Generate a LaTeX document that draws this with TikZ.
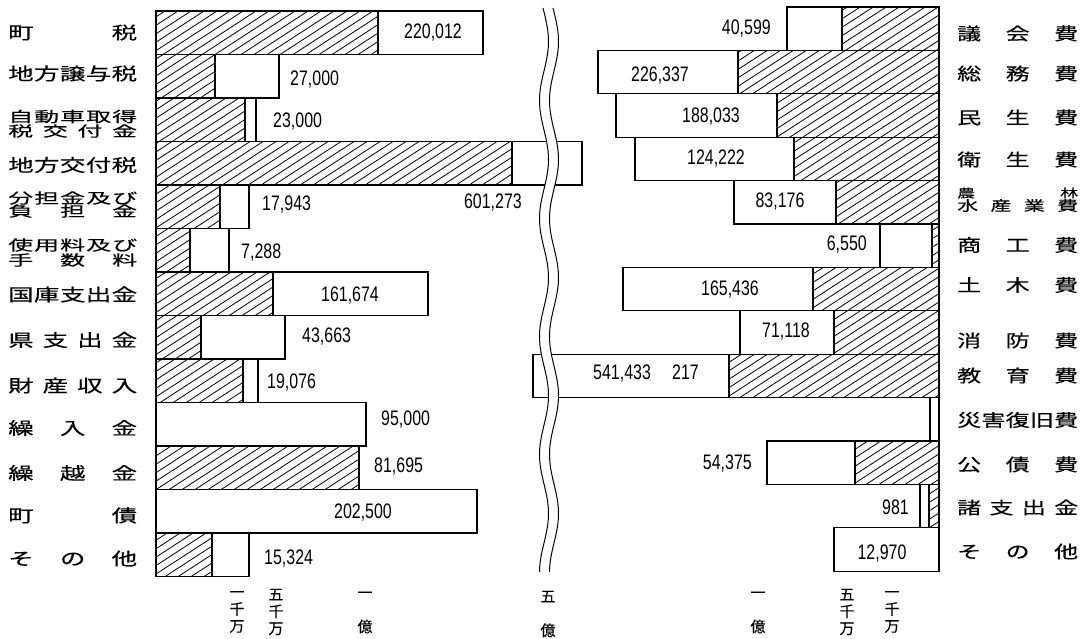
\documentclass[tikz,border=0pt]{standalone}
\usepackage{fontspec}
\usepackage{graphicx}
\setmainfont{Noto Sans CJK JP}
\newfontfamily\jpf[FakeBold=0.3]{Noto Sans CJK JP}
\newfontfamily\numf[FakeStretch=0.76]{Liberation Sans}
\newcommand\LL[1]{\scalebox{1}[0.68]{\makebox[129pt][l]{#1}}}
\newcommand\LS[1]{\scalebox{1}[0.58]{\makebox[129pt][l]{#1}}}
\newcommand\RL[1]{\scalebox{1}[0.72]{\makebox[121pt][l]{#1}}}
\newcommand\RS[1]{\scalebox{1}[0.66]{\makebox[121pt][l]{#1}}}
\tikzset{
  barline/.style={draw=black, line width=1.1pt},
  whitebar/.style={draw=black, line width=1.1pt, fill=white},
  hatchln/.style={draw=black, line width=0.8pt},
  wave/.style={draw=black, line width=1pt},
  num/.style={inner sep=0pt, text height=15pt, text depth=0pt, font=\numf\fontsize{21}{21}\selectfont},
  lab/.style={inner sep=0pt, anchor=west, font=\jpf\fontsize{25.5}{25.5}\selectfont},
  rlab/.style={inner sep=0pt, anchor=west, font=\jpf\fontsize{24}{24}\selectfont},
  labs/.style={inner sep=0pt, anchor=west, font=\jpf\fontsize{25}{25}\selectfont},
  labt/.style={inner sep=0pt, anchor=west, font=\jpf\fontsize{18}{18}\selectfont},
  labu/.style={inner sep=0pt, anchor=west, font=\jpf\fontsize{21}{21}\selectfont},
  ax/.style={inner sep=0pt, align=center, font=\jpf\fontsize{15}{17}\selectfont},
}
\newcommand\hatchbox[4]{%
  \pgfmathsetmacro\hcs{floor((#1+1.54*#2)/13)*13}%
  \pgfmathsetmacro\hcn{\hcs+13}%
  \pgfmathsetmacro\hce{#3+1.54*#4+13}%
  \begin{scope}
    \clip (#1,#2) rectangle (#3,#4);
    \foreach \hc in {\hcs,\hcn,...,\hce} \draw[hatchln] (\hc,0) -- ({\hc-1.54*640},640);
  \end{scope}
  \draw[barline] (#1,#2) rectangle (#3,#4);}
\newcommand\wbox[4]{\draw[whitebar] (#1,#2) rectangle (#3,#4);}
\begin{document}
\begin{tikzpicture}[x=1pt,y=-1pt]
\useasboundingbox (0,0) rectangle (1088,639);
\fill[white] (0,0) rectangle (1088,639);
% ---------- left bars ----------
\hatchbox{156}{11}{378}{54.5}\wbox{378}{11}{483}{54.5}
\hatchbox{156}{54.5}{215}{98}\wbox{215}{54.5}{279}{98}
\hatchbox{156}{98}{245}{141.5}\wbox{245}{98}{256}{141.5}
\hatchbox{156}{141.5}{512}{185}\wbox{512}{141.5}{582}{185}
\hatchbox{156}{185}{220}{228.5}\wbox{220}{185}{249}{228.5}
\hatchbox{156}{228.5}{190}{272}\wbox{190}{228.5}{229}{272}
\hatchbox{156}{272}{273}{315.5}\wbox{273}{272}{428}{315.5}
\hatchbox{156}{315.5}{201}{359}\wbox{201}{315.5}{285}{359}
\hatchbox{156}{359}{243}{402.5}\wbox{243}{359}{258}{402.5}
\wbox{156}{402.5}{366}{446}
\hatchbox{156}{446}{359}{489.5}
\wbox{156}{489.5}{477}{533}
\hatchbox{156}{533}{212}{576.5}\wbox{212}{533}{249}{576.5}
% ---------- right bars ----------
\wbox{787}{7}{842}{50.4}\hatchbox{842}{7}{939}{50.4}
\wbox{598}{50.4}{738}{93.8}\hatchbox{738}{50.4}{939}{93.8}
\wbox{616}{93.8}{777}{137.2}\hatchbox{777}{93.8}{939}{137.2}
\wbox{635}{137.2}{794}{180.6}\hatchbox{794}{137.2}{939}{180.6}
\wbox{734}{180.6}{836}{224}\hatchbox{836}{180.6}{939}{224}
\wbox{880}{224}{932}{267.4}\hatchbox{932}{224}{939}{267.4}
\wbox{623}{267.4}{813}{310.8}\hatchbox{813}{267.4}{939}{310.8}
\wbox{740}{310.8}{834}{354.2}\hatchbox{834}{310.8}{939}{354.2}
\wbox{533}{354.2}{729}{397.6}\hatchbox{729}{354.2}{939}{397.6}
\wbox{930}{397.6}{939}{441}
\wbox{767}{441}{855}{484.4}\hatchbox{855}{441}{939}{484.4}
\wbox{920}{484.4}{929}{527.8}\hatchbox{929}{484.4}{939}{527.8}
\wbox{834}{527.8}{939}{571.2}
% ---------- wavy break ----------
\fill[white] plot[domain=8:572, samples=140, smooth] ({549+4.5*sin((\x-130)*3.0508)-5}, \x)
  -- plot[domain=572:8, samples=140, smooth] ({549+4.5*sin((\x-130)*3.0508)+5}, \x) -- cycle;
\draw[wave] plot[domain=8:572, samples=140, smooth] ({549+4.5*sin((\x-130)*3.0508)-5}, \x);
\draw[wave] plot[domain=8:572, samples=140, smooth] ({549+4.5*sin((\x-130)*3.0508)+5}, \x);
% ---------- left numbers ----------
\node[num] (n1) at (433,31) {220,012};
\node[num, anchor=west] (n2) at (290,78) {27,000};
\node[num, anchor=west] (n3) at (273,120.5) {23,000};
\node[num, anchor=east] (n4) at (522,201) {601,273};
\node[num, anchor=west] (n5) at (262,203) {17,943};
\node[num, anchor=west] (n6) at (241,251) {7,288};
\node[num] (n7) at (350,294) {161,674};
\node[num, anchor=west] (n8) at (302,335) {43,663};
\node[num, anchor=west] (n9) at (267,381) {19,076};
\node[num, anchor=west] (n10) at (381,418) {95,000};
\node[num, anchor=west] (n11) at (374,465) {81,695};
\node[num] (n12) at (363,511) {202,500};
\node[num, anchor=west] (n13) at (264,557) {15,324};
% ---------- right numbers ----------
\node[num, anchor=east] (m1) at (771,27) {40,599};
\node[num] (m2) at (660,74) {226,337};
\node[num] (m3) at (711,115.5) {188,033};
\node[num] (m4) at (716,157) {124,222};
\node[num] (m5) at (780,200) {83,176};
\node[num, anchor=east] (m6) at (867,243) {6,550};
\node[num] (m7) at (730,288) {165,436};
\node[num] (m8) at (786,330) {71,118};
\node[num, anchor=west] (m9a) at (593,372) {541,433};
\node[num, anchor=west] (m9b) at (672,372) {217};
\node[num, anchor=east] (m11) at (752,462) {54,375};
\node[num, anchor=east] (m12) at (909,507) {981};
\node[num] (m13) at (882,552) {12,970};
% ---------- left labels ----------
\node[lab] (L1) at (8,32.5) {\LL{町\hfill 税}};
\node[lab] (L2) at (8,73.5) {\LL{地\hfill 方\hfill 譲\hfill 与\hfill 税}};
\node[labs] (L3a) at (8,116.5) {\LS{自\hfill 動\hfill 車\hfill 取\hfill 得}};
\node[labs] (L3b) at (8,131) {\LS{税\hfill 交\hfill 付\hfill 金}};
\node[lab] (L4) at (8,165) {\LL{地\hfill 方\hfill 交\hfill 付\hfill 税}};
\node[labs] (L5a) at (8,198) {\LS{分\hfill 担\hfill 金\hfill 及\hfill び}};
\node[labs] (L5b) at (8,211) {\LS{負\hfill 担\hfill 金}};
\node[labs] (L6a) at (8,245) {\LS{使\hfill 用\hfill 料\hfill 及\hfill び}};
\node[labs] (L6b) at (8,260) {\LS{手\hfill 数\hfill 料}};
\node[lab] (L7) at (8,294.5) {\LL{国\hfill 庫\hfill 支\hfill 出\hfill 金}};
\node[lab] (L8) at (8,340) {\LL{県\hfill 支\hfill 出\hfill 金}};
\node[lab] (L9) at (8,385.5) {\LL{財\hfill 産\hfill 収\hfill 入}};
\node[lab] (L10) at (8,428) {\LL{繰\hfill 入\hfill 金}};
\node[lab] (L11) at (8,473) {\LL{繰\hfill 越\hfill 金}};
\node[lab] (L12) at (8,515.5) {\LL{町\hfill 債}};
\node[lab] (L13) at (8,558.5) {\LL{そ\hfill の\hfill 他}};
% ---------- right labels ----------
\node[rlab] (R1) at (957,33.5) {\RL{議\hfill 会\hfill 費}};
\node[rlab] (R2) at (957,73.5) {\RL{総\hfill 務\hfill 費}};
\node[rlab] (R3) at (957,117.5) {\RL{民\hfill 生\hfill 費}};
\node[rlab] (R4) at (957,159.5) {\RL{衛\hfill 生\hfill 費}};
\node[labt] (R5a) at (957,193) {\RS{農\hfill 林}};
\node[labu] (R5b) at (957,205.5) {\RS{水\hfill 産\hfill 業\hfill 費}};
\node[rlab] (R6) at (957,245) {\RL{商\hfill 工\hfill 費}};
\node[rlab] (R7) at (957,285) {\RL{土\hfill 木\hfill 費}};
\node[rlab] (R8) at (957,340.5) {\RL{消\hfill 防\hfill 費}};
\node[rlab] (R9) at (957,375.5) {\RL{教\hfill 育\hfill 費}};
\node[rlab] (R10) at (957,420) {\RL{災\hfill 害\hfill 復\hfill 旧\hfill 費}};
\node[rlab] (R11) at (957,464.5) {\RL{公\hfill 債\hfill 費}};
\node[rlab] (R12) at (957,507.5) {\RL{諸\hfill 支\hfill 出\hfill 金}};
\node[rlab] (R13) at (957,551.5) {\RL{そ\hfill の\hfill 他}};
% ---------- axis labels ----------
\node[ax] (a1) at (237,612) {一\\千\\万};
\node[ax] (a2) at (276,612) {五\\千\\万};
\node[ax] (a3) at (365,612.5) {一\\[17pt]億};
\node[ax] (a4) at (548,614) {五\\[17pt]億};
\node[ax] (a5) at (758,612.5) {一\\[17pt]億};
\node[ax] (a6) at (847,612) {五\\千\\万};
\node[ax] (a7) at (892,612) {一\\千\\万};
\end{tikzpicture}
\end{document}
